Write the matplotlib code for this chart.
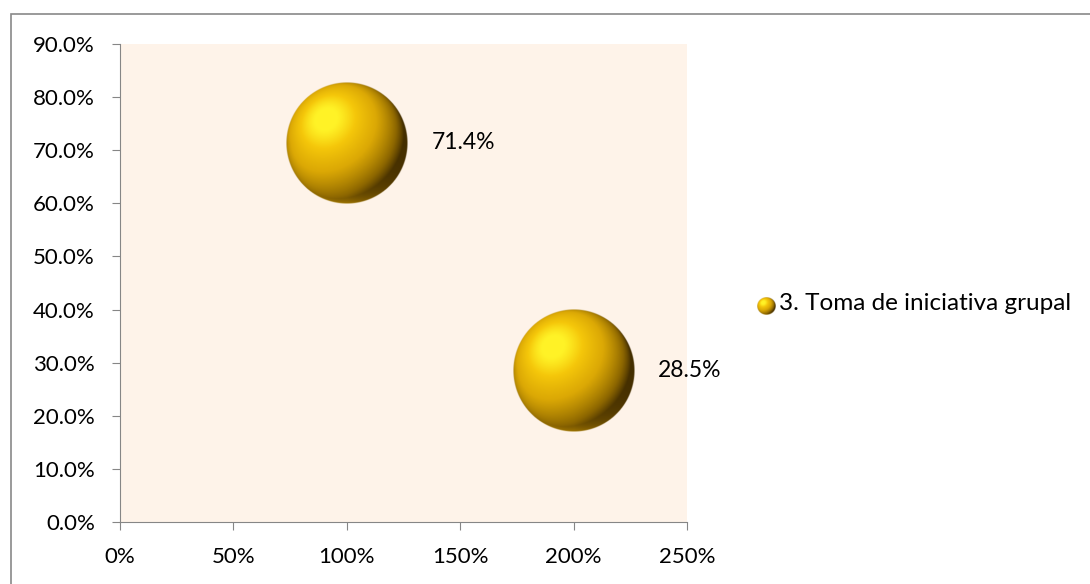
import numpy as np
import matplotlib.pyplot as plt
from matplotlib.colors import LinearSegmentedColormap
from matplotlib.patches import Rectangle
from matplotlib.ticker import FuncFormatter

plt.rcParams['font.family'] = ['Lato', 'DejaVu Sans']

# data
x_vals = [1.0, 2.0]
y_vals = [0.714, 0.285]
bubble_sizes = [1.0, 1.0]
series_name = "3. Toma de iniciativa grupal"
x_ticks = [0, 0.5, 1.0, 1.5, 2.0, 2.5]
y_ticks = [0.0, 0.1, 0.2, 0.3, 0.4, 0.5, 0.6, 0.7, 0.8, 0.9]

gold = LinearSegmentedColormap.from_list("gold", [
    (0.00, (0.20, 0.13, 0.00)),
    (0.25, (0.55, 0.40, 0.00)),
    (0.55, (0.86, 0.66, 0.02)),
    (0.80, (0.96, 0.78, 0.04)),
    (1.00, (1.00, 0.95, 0.15)),
])


def sphere_image(n=240):
    u = np.linspace(-1, 1, n)
    U, V = np.meshgrid(u, -u)
    r2 = U**2 + V**2
    Z = np.sqrt(np.clip(1 - r2, 0, 1))
    L = np.array([-0.35, 0.40, 0.85])
    L = L / np.linalg.norm(L)
    diff = np.clip(U * L[0] + V * L[1] + Z * L[2], 0, 1)
    # soft reflection near the bottom rim
    rim = np.clip(-V, 0, 1) * np.clip(1 - Z, 0, 1) * 0.3 * np.clip(1 - U, 0, 1)
    spec = diff ** 8 * 0.25
    t = np.clip(0.05 + 0.75 * diff + rim + spec, 0, 1)
    rgba = gold(t)
    r = np.sqrt(r2)
    rgba[..., 3] = np.clip((1 - r) * n / 2, 0, 1)
    return rgba


img = sphere_image()

fig = plt.figure(figsize=(10.9, 5.84), dpi=100)
fig.patches.append(Rectangle((11 / 1090, -0.1), 1.2, 0.1 + (584 - 14) / 584,
                             transform=fig.transFigure, fill=False,
                             edgecolor='#898989', linewidth=1.2))

ax = fig.add_axes([120 / 1090, 62 / 584, 567 / 1090, 478 / 584])
ax.set_facecolor('#FEF3E9')
ax.set_xlim(0, 2.5)
ax.set_ylim(0, 0.9)
ax.set_xticks(x_ticks)
ax.set_yticks(y_ticks)
ax.xaxis.set_major_formatter(FuncFormatter(lambda v, p: f"{v:.0%}"))
ax.yaxis.set_major_formatter(FuncFormatter(lambda v, p: f"{v:.1%}"))
for s in ['top', 'right']:
    ax.spines[s].set_visible(False)
for s in ['left', 'bottom']:
    ax.spines[s].set_color('#868686')
ax.tick_params(axis='both', colors='#868686', labelcolor='black',
               labelsize=16, length=6, direction='out')
ax.tick_params(axis='x', pad=12)
ax.tick_params(axis='y', pad=12)

fig.canvas.draw()
r_px = 61
for xv, yv, sz in zip(x_vals, y_vals, bubble_sizes):
    cx, cy = ax.transData.transform((xv, yv))
    rr = r_px * np.sqrt(sz)
    x0, y0 = ax.transData.inverted().transform((cx - rr, cy - rr))
    x1, y1 = ax.transData.inverted().transform((cx + rr, cy + rr))
    ax.imshow(img, extent=(x0, x1, y0, y1), aspect='auto', zorder=3,
              interpolation='bilinear')
    ax.annotate(f"{yv:.1%}", (xv, yv), xytext=(r_px * 0.72 + 17, 0),
                textcoords='offset points', ha='left', va='center',
                fontsize=16.5, zorder=4)
ax.set_xlim(0, 2.5)
ax.set_ylim(0, 0.9)

# legend
lax = fig.add_axes([757 / 1090, (584 - 315) / 584, 18 / 1090, 18 / 584])
lax.imshow(sphere_image(60), extent=(0, 1, 0, 1), aspect='auto',
           interpolation='bilinear')
lax.axis('off')
fig.text(779 / 1090, 1 - 303 / 584, series_name, ha='left', va='center',
         fontsize=17.5)

fig.savefig("out.png", dpi=100)
